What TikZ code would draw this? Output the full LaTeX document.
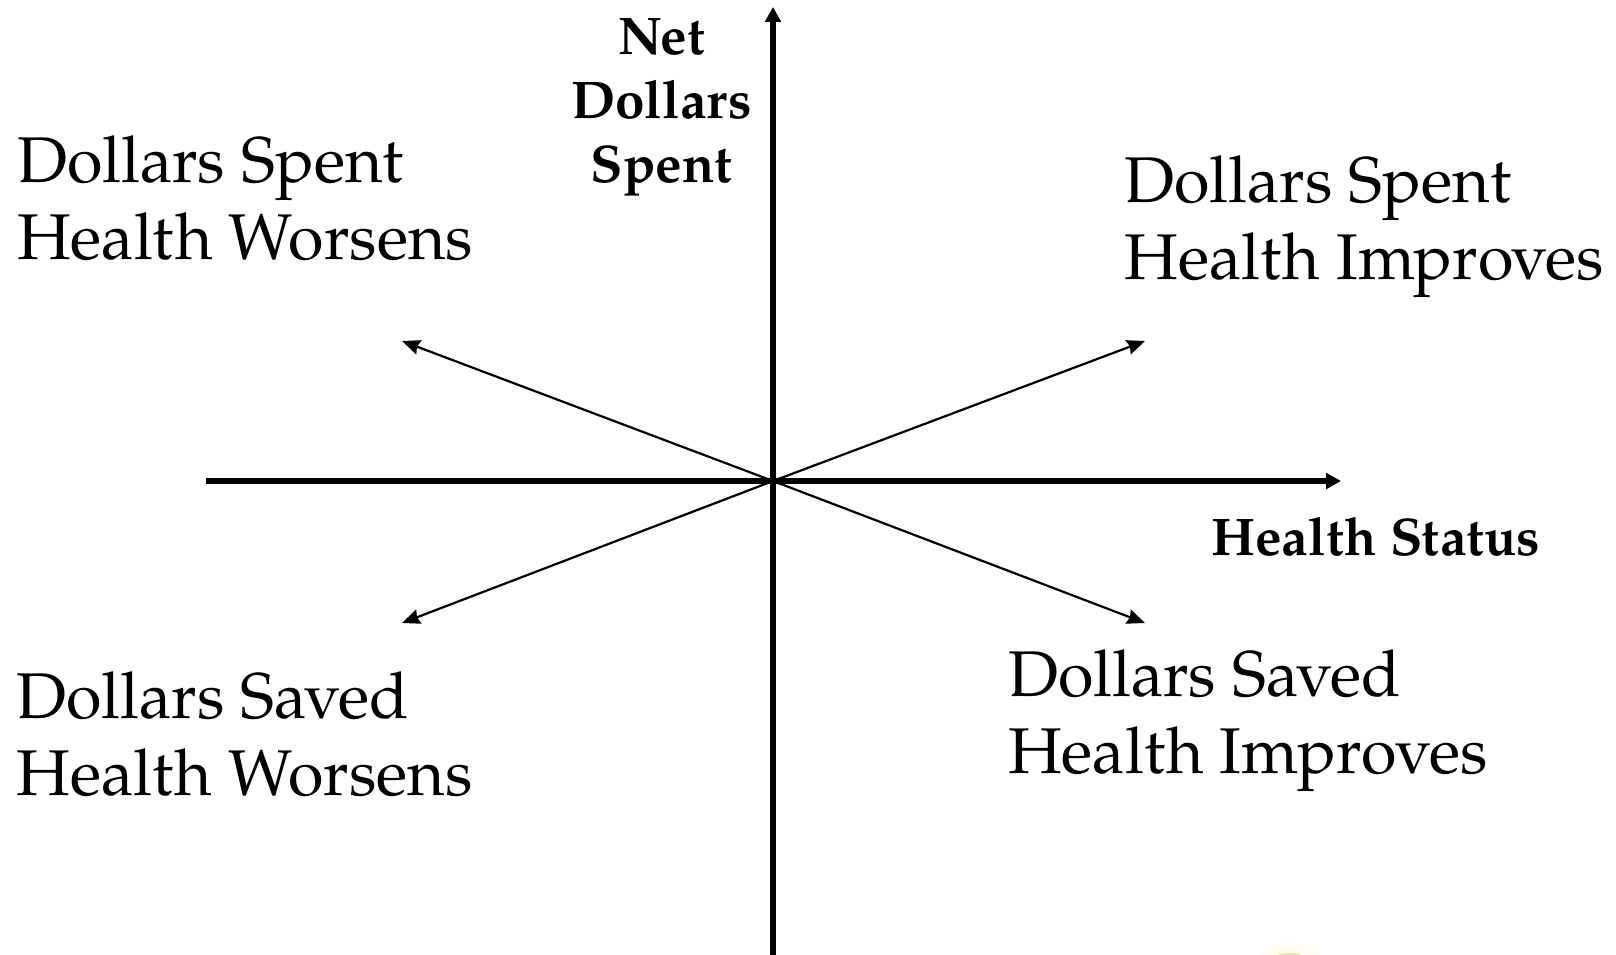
\documentclass[tikz,border=0pt]{standalone}
\usepackage{fontspec}
\setmainfont{TeX Gyre Pagella}
\usetikzlibrary{arrows.meta}
\definecolor{smudgepale}{HTML}{FFFDF2}
\definecolor{smudgegold}{HTML}{EFE3A0}
\tikzset{
  axis/.style={line width=5.5pt,-{Triangle[length=15pt,width=15.5pt]}},
  diag/.style={line width=2.2pt,-{Stealth[length=18pt,width=15pt,inset=2pt]}},
  big/.style={font=\fontsize{64.6}{77}\selectfont,align=left,anchor=base west,inner sep=0pt},
  lab/.style={font=\fontsize{53}{64}\selectfont\bfseries,align=center,inner sep=0pt}
}
\begin{document}
\begin{tikzpicture}[x=1pt,y=-1pt]
\useasboundingbox (0,0) rectangle (1616,955);
\fill[smudgepale] (1290,957) ellipse (30pt and 14pt);
\fill[smudgegold] (1289,957) ellipse (14pt and 4pt);
\coordinate (o) at (773,481);
\coordinate (xs) at (206,481);
\coordinate (xe) at (1341,481);
\coordinate (ys) at (773,955);
\coordinate (ye) at (773,7);
\coordinate (ne) at (1145,341);
\coordinate (nw) at (402,341);
\coordinate (se) at (1145,623);
\coordinate (sw) at (402,623);
\draw[axis] (xs) -- (xe);
\draw[axis] (ys) -- (ye);
\draw[diag] (o) -- (ne);
\draw[diag] (o) -- (nw);
\draw[diag] (o) -- (se);
\draw[diag] (o) -- (sw);
\node[big] (tl) at (17,259.5) {Dollars Spent\\Health Worsens};
\node[big] (tr) at (1124.5,279.5) {Dollars Spent\\Health Improves};
\node[big] (bl) at (16.5,795) {Dollars Saved\\Health Worsens};
\node[big] (br) at (1008,773.5) {Dollars Saved\\Health Improves};
\node[lab,anchor=base] (ylab) at (661.5,182.5) {Net\\Dollars\\Spent};
\node[lab,anchor=base west] (xlab) at (1211,555.5) {Health Status};
\end{tikzpicture}
\end{document}
